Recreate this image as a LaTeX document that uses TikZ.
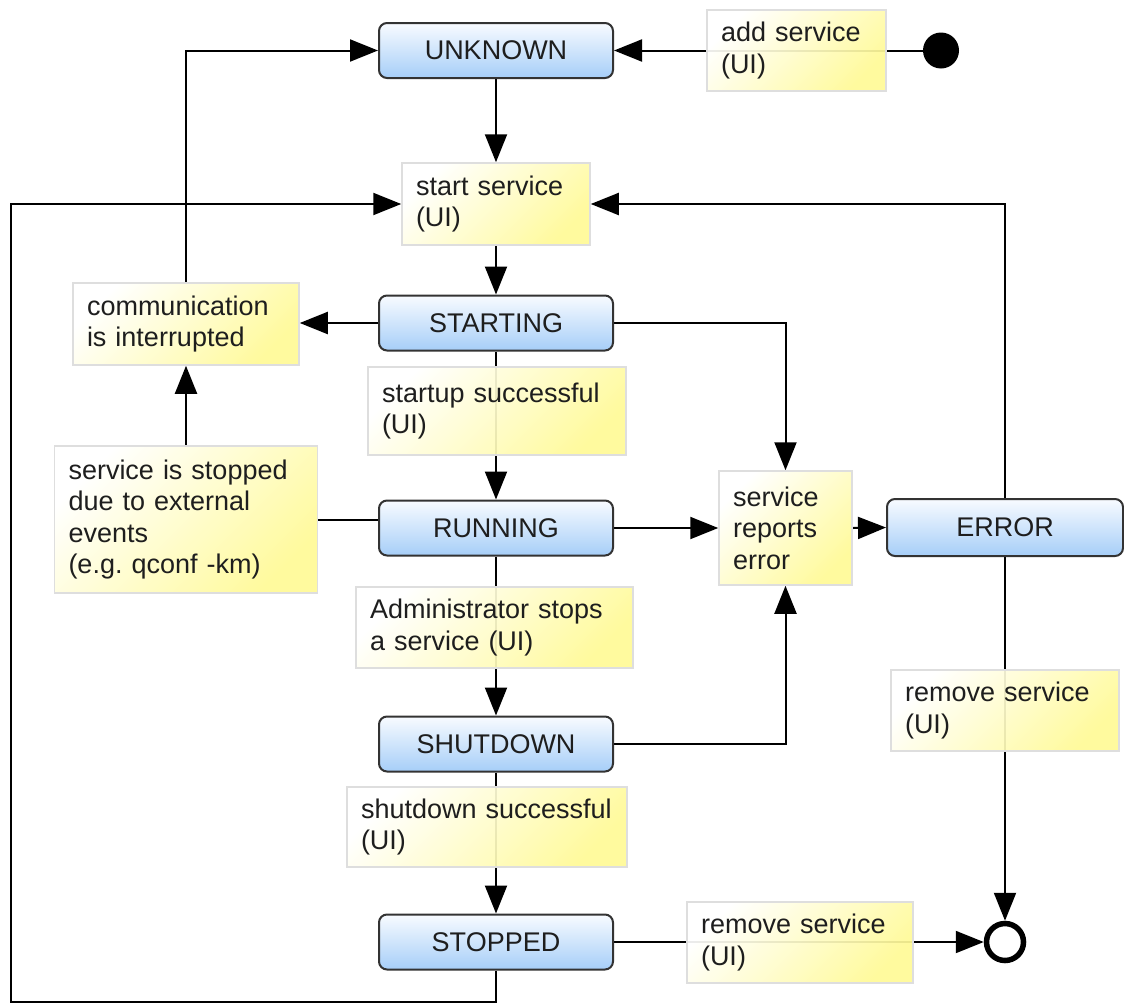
\documentclass[tikz,border=0pt]{standalone}
\usepackage{fontspec}
\setmainfont{Liberation Sans}
\usetikzlibrary{arrows.meta,backgrounds,calc}
\definecolor{notey}{RGB}{255,250,150}
\definecolor{notebd}{RGB}{222,222,222}
\definecolor{stateb}{RGB}{166,206,248}
\definecolor{statet}{RGB}{248,251,255}
\definecolor{txt}{RGB}{30,30,30}
\frenchspacing
\begin{document}
\begin{tikzpicture}[x=1pt,y=-1pt,
  every node/.style={font=\fontsize{27}{31.5}\selectfont, text=txt},
  state/.style={draw=black!80, line width=2pt, rounded corners=8pt,
    top color=statet, bottom color=stateb,
    minimum width=234pt, minimum height=55pt, inner sep=0pt},
  note/.style={draw=notebd, line width=1.5pt, left color=white, right color=notey,
    shading angle=45, fill opacity=0.92, text opacity=1,
    align=left, inner xsep=14pt, inner ysep=0pt},
  flow/.style={line width=2pt, -{Triangle[length=28pt,width=22pt]}},
  plain/.style={line width=2pt}]

\useasboundingbox (0,0) rectangle (1124,1004);

% states
\node[state] (unknown)  at (496,50.5) {UNKNOWN};
\node[state] (starting) at (496,323)  {STARTING};
\node[state] (running)  at (496,528)  {RUNNING};
\node[state] (shutdown) at (496,744)  {SHUTDOWN};
\node[state] (stopped)  at (496,942)  {STOPPED};
\node[state, minimum width=236pt, minimum height=57pt] (error) at (1005,527.5) {ERROR};

% initial and final pseudo states
\node[circle, fill=black, minimum size=36pt, inner sep=0pt] (init) at (941,50.5) {};
\node[circle, draw=black, line width=5.5pt, fill=white, minimum size=37pt, inner sep=0pt] (final) at (1005,942) {};

% transition notes
\node[note, text width=151pt, minimum height=81pt] (addsvc)  at (796.5,50.5) {add service\\(UI)};
\node[note, text width=160pt, minimum height=82pt] (start)   at (496,204)    {start service\\(UI)};
\node[note, text width=198pt, minimum height=82pt] (comm)    at (186,324)    {communication\\is interrupted};
\node[note, text width=230pt, minimum height=88pt] (startok) at (497,411)    {startup successful\\(UI)};
\node[note, text width=235pt, minimum height=147pt] (ext)    at (186,519.5)  {service is stopped\\due to external\\events\\(e.g. qconf -km)};
\node[note, text width=105pt, minimum height=114pt] (errnote) at (785.5,528) {service\\reports\\error};
\node[note, text width=249pt, minimum height=81pt] (admin)   at (494.5,627.5) {Administrator stops\\a service (UI)};
\node[note, text width=252pt, minimum height=80pt] (shutok)  at (487,827)    {\mbox{shutdown successful}\\(UI)};
\node[note, text width=198pt, minimum height=81pt] (rmstop)  at (800,942.5)  {remove service\\(UI)};
\node[note, text width=200pt, minimum height=81pt] (rmerr)   at (1005,710.5) {remove service\\(UI)};

\begin{pgfonlayer}{background}
  \fill[white] (0,0) rectangle (1124,1004);
  \coordinate (lowleft) at (11,1002);

  \draw[flow] (init.west) -- (unknown.east);
  \draw[flow] (unknown) -- (start);
  \draw[flow] (stopped.south) |- (lowleft) |- (start.west);
  \draw[flow] (error.north) |- (start.east);
  \draw[flow] (start) -- (starting);
  \draw[flow] (starting.west) -- (starting.west -| comm.east);
  \draw[flow] (comm.north) |- (unknown.west);
  \draw[flow] (starting.east) -| (errnote.north);
  \draw[flow] (starting) -- (running);
  \draw[plain] (ext.east) -- (ext.east -| running.west);
  \draw[flow] (ext.north) -- (comm.south);
  \draw[flow] (running.east) -- (errnote.west);
  \draw[flow] (errnote.east) -- (error.west);
  \draw[flow] (running) -- (shutdown);
  \draw[flow] (shutdown.east) -| (errnote.south);
  \draw[flow] (shutdown) -- (stopped);
  \draw[flow] (stopped.east) -- (final.west);
  \draw[flow] (error.south) -- (final.north);
\end{pgfonlayer}
\end{tikzpicture}
\end{document}
